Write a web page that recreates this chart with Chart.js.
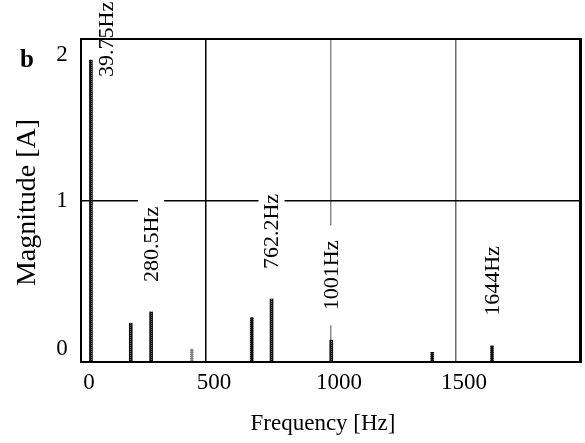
<!DOCTYPE html>
<html lang="en">
<head>
  <meta charset="UTF-8" />
  <title>Spectrum b</title>
  <script src="https://cdn.jsdelivr.net/npm/chart.js"></script>
  <style>
    html, body { margin: 0; padding: 0; background: #fff; }
    canvas { display: block; }
  </style>
</head>
<body>
  <canvas id="spectrum" width="585" height="443"></canvas>

  <script>
    // peak frequencies [Hz] and magnitudes [A]
    const freqs = [39.75, 199, 280.5, 443, 683, 762.2, 1001, 1405, 1644];
    const magnitudes = [1.87, 0.24, 0.31, 0.08, 0.275, 0.39, 0.135, 0.06, 0.10];
    const peakLabels = ['39.75Hz', '', '280.5Hz', '', '', '762.2Hz', '1001Hz', '', '1644Hz'];
    const xTicks = [0, 500, 1000, 1500];
    const yTicks = [0, 1, 2];

    const SERIF = '"Liberation Serif", "Times New Roman", serif';

    function dotted(dark, light) {
      const c = document.createElement('canvas');
      c.width = 3; c.height = 2;
      const g = c.getContext('2d');
      g.fillStyle = dark;
      g.fillRect(0, 0, 3, 2);
      g.fillStyle = light;
      g.fillRect(1, 1, 1, 1);
      return g.createPattern(c, 'repeat');
    }
    const darkBar = dotted('#111', '#666');
    const greyBar = dotted('#888', '#c8c8c8');

    // text, tick labels and frame drawn against the chart's own scales
    const decorations = {
      id: 'decorations',
      afterDatasetsDraw(chart) {
        const ctx = chart.ctx;
        const xs = chart.scales.x, ys = chart.scales.y;
        ctx.save();
        ctx.font = '22px ' + SERIF;
        ctx.textBaseline = 'middle';
        ctx.textAlign = 'left';
        freqs.forEach((f, i) => {
          const txt = peakLabels[i];
          if (!txt) return;
          let x = xs.getPixelForValue(f);
          let top = ys.getPixelForValue(magnitudes[i]);
          let bottom = top - 30;
          const w = ctx.measureText(txt).width;
          if (bottom - w < chart.chartArea.top - 40) {
            // tall peak: put the label beside the bar
            x += 15;
            bottom = top + 17;
          }
          ctx.fillStyle = '#fff';
          ctx.fillRect(x - 13, bottom - w - 15, 26, w + 30);
          ctx.save();
          ctx.translate(x + 1, bottom);
          ctx.rotate(-Math.PI / 2);
          ctx.fillStyle = '#000';
          ctx.fillText(txt, 0, 0);
          ctx.restore();
        });
        ctx.restore();
      },
      afterDraw(chart) {
        const ctx = chart.ctx;
        const a = chart.chartArea;
        const xs = chart.scales.x, ys = chart.scales.y;
        ctx.save();
        // frame
        ctx.strokeStyle = '#000';
        ctx.lineWidth = 2;
        ctx.strokeRect(a.left, a.top, a.right - a.left, a.bottom - a.top);
        ctx.fillStyle = '#000';
        ctx.fillRect(a.right - 2, a.top, 3, a.bottom - a.top);

        // tick labels
        ctx.font = '23px ' + SERIF;
        ctx.textAlign = 'center';
        ctx.textBaseline = 'middle';
        xTicks.forEach(v => {
          ctx.fillText(String(v), xs.getPixelForValue(v) + 8, a.bottom + 21);
        });
        yTicks.forEach(v => {
          let y = ys.getPixelForValue(v);
          y = Math.min(Math.max(y, a.top + 16), a.bottom - 13);
          ctx.fillText(String(v), 62, y);
        });

        // axis titles
        ctx.font = '23px ' + SERIF;
        ctx.fillText('Frequency [Hz]', (a.left + a.right) / 2 - 8, 424);
        ctx.save();
        ctx.translate(28, (a.top + a.bottom) / 2 + 2);
        ctx.rotate(-Math.PI / 2);
        ctx.font = '28px ' + SERIF;
        ctx.fillText('Magnitude [A]', 0, 0);
        ctx.restore();

        // panel letter
        ctx.font = 'bold 25px ' + SERIF;
        ctx.fillText('b', 27, 61);
        ctx.restore();
      }
    };

    const gridColor = {
      500: '#000',
      1000: '#8a8a8a',
      1500: '#6a6a6a'
    };

    new Chart(document.getElementById('spectrum'), {
      type: 'bar',
      data: {
        datasets: [{
          data: freqs.map((f, i) => ({ x: f, y: magnitudes[i] })),
          backgroundColor: freqs.map(f => (f > 400 && f < 500 ? greyBar : darkBar)),
          borderWidth: 0,
          barThickness: 3
        }]
      },
      options: {
        responsive: false,
        animation: false,
        devicePixelRatio: 1,
        layout: { padding: { left: 81, top: 39, right: 4, bottom: 81 } },
        plugins: {
          legend: { display: false },
          tooltip: { enabled: false }
        },
        scales: {
          x: {
            type: 'linear',
            min: 0,
            max: 2000,
            offset: false,
            ticks: { display: false, stepSize: 500 },
            grid: {
              offset: false,
              drawTicks: false,
              lineWidth: 1.5,
              color: c => gridColor[c.tick && c.tick.value] || 'rgba(0,0,0,0)'
            },
            border: { color: '#000', width: 2 }
          },
          y: {
            min: 0,
            max: 2,
            ticks: { display: false, stepSize: 1 },
            grid: {
              drawTicks: false,
              lineWidth: 1.5,
              color: c => (c.tick && c.tick.value === 1 ? '#000' : 'rgba(0,0,0,0)')
            },
            border: { color: '#000', width: 2 }
          }
        }
      },
      plugins: [decorations]
    });
  </script>
</body>
</html>
